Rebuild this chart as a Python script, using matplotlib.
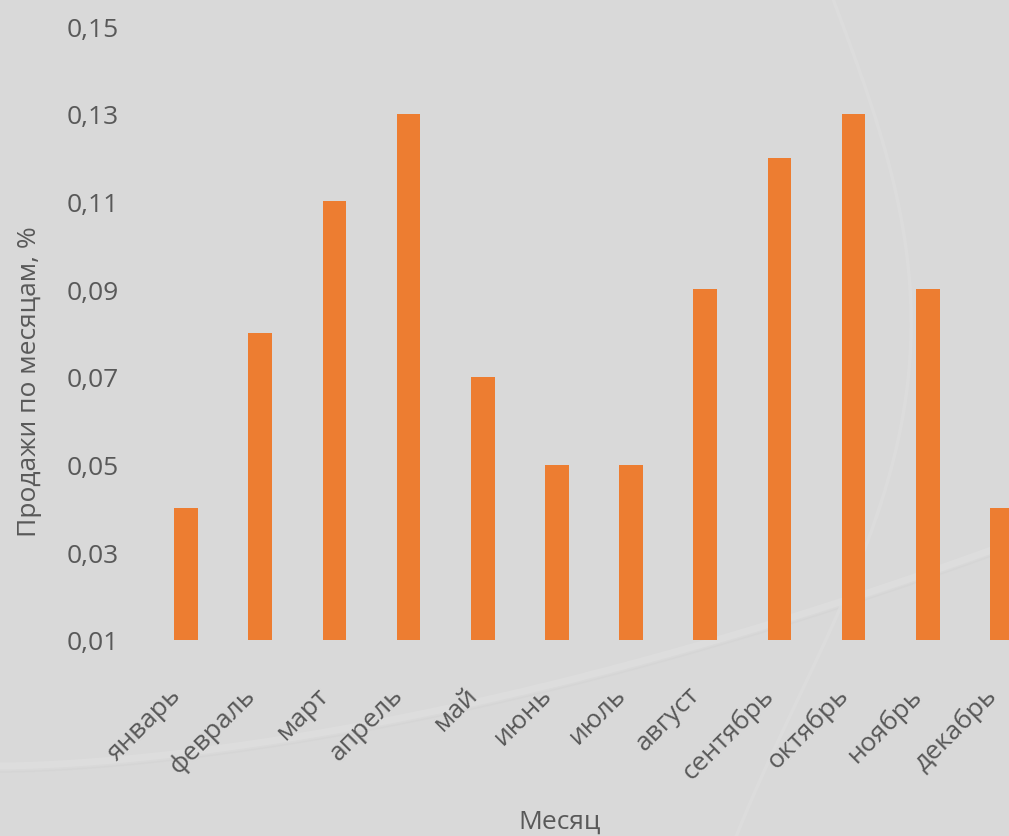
import numpy as np
import matplotlib.pyplot as plt
import matplotlib.transforms as mtransforms
from matplotlib.ticker import FuncFormatter

plt.rcParams['font.family'] = ['Open Sans', 'DejaVu Sans']

months = ["январь", "февраль", "март", "апрель", "май", "июнь",
          "июль", "август", "сентябрь", "октябрь", "ноябрь", "декабрь"]
sales = [0.04, 0.08, 0.11, 0.13, 0.07, 0.05,
         0.05, 0.09, 0.12, 0.13, 0.09, 0.04]
yticks = [0.01, 0.03, 0.05, 0.07, 0.09, 0.11, 0.13, 0.15]

bg = "#d9d9d9"
text_color = "#595959"
bar_color = "#ed7d31"

fig = plt.figure(figsize=(10.09, 8.37), dpi=100)
fig.patch.set_facecolor(bg)

# faint decorative swooshes behind the chart
deco = fig.add_axes([0, 0, 1, 1], zorder=0)
deco.set_xlim(0, 1009)
deco.set_ylim(837, 0)
deco.axis("off")
t = np.linspace(0, 1009, 200)
deco.plot(t, 767 - 74 * (t / 520) ** 1.66, color="#dfdfdf", lw=5, alpha=0.7)
deco.plot(t, 773 - 74 * (t / 520) ** 1.66, color="#d3d3d3", lw=1.2, alpha=0.5)
yy = np.linspace(0, 837, 200)
deco.plot(833 + 95 * np.sin(np.pi * yy / 700) - 0.05 * yy, yy,
          color="#dddddd", lw=2.5, alpha=0.8)

ax = fig.add_axes([149 / 1009, 1 - 641 / 837, 890 / 1009, (641 - 27) / 837], zorder=1)
ax.patch.set_alpha(0)

x = np.arange(len(months))
ax.bar(x, [v - 0.01 for v in sales], bottom=0.01, width=0.32, color=bar_color)

ax.set_xlim(-0.5, len(months) - 0.5)
ax.set_ylim(0.01, 0.15)
ax.set_yticks(yticks)
ax.yaxis.set_major_formatter(FuncFormatter(lambda v, p: f"{v:.2f}".replace(".", ",")))
ax.set_xticks(x)
ax.set_xticklabels(months, rotation=45, ha="right", va="top")
shift = mtransforms.ScaledTranslation(4 / 100, 3 / 100, fig.dpi_scale_trans)
for lbl in ax.get_xticklabels():
    lbl.set_transform(lbl.get_transform() + shift)

for s in ax.spines.values():
    s.set_visible(False)
ax.tick_params(axis="y", length=0, pad=22, labelsize=19, labelcolor=text_color)
ax.tick_params(axis="x", length=0, pad=30, labelsize=19, labelcolor=text_color)

fig.text(30 / 1009, 1 - 382 / 837, "Продажи по месяцам, %", rotation=90,
         ha="center", va="center", fontsize=19, color=text_color)
fig.text(560 / 1009, 1 - 822 / 837, "Месяц", ha="center", va="center",
         fontsize=19, color=text_color)

fig.savefig("out.png", dpi=100, facecolor=bg)
